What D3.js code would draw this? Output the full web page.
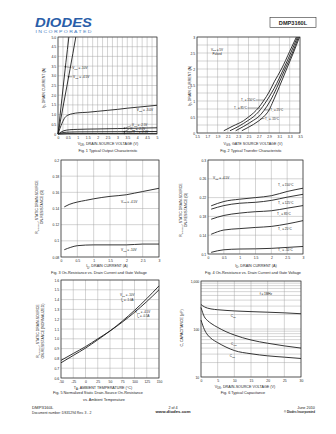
<!DOCTYPE html>
<html><head><meta charset="utf-8">
<script src="https://cdn.jsdelivr.net/npm/d3@7"></script>
<style>html,body{margin:0;padding:0;background:#fff;}svg{display:block;font-family:"Liberation Sans",Arial,sans-serif;}</style>
</head><body><svg id="c" width="336" height="434"></svg>
<script>
// ---------- DATA ----------
// Fig 1: Typical Output Characteristic  [VDS, ID]
const f1Vgs10 = [[0,0],[0.2,1.85],[0.4,3.7],[0.55,5]];
const f1Vgs45 = [[0,0],[0.3,1.65],[0.6,3.3],[0.9,5]];
const f1Vgs30 = [[0,0],[0.2,0.55],[0.35,0.85],[0.5,0.97],[0.75,1.05],[1,1.09],[1.5,1.12],[2,1.17],[2.5,1.22],[3,1.27],[3.5,1.33],[4,1.38],[4.5,1.43],[5,1.48]];
const f1Vgs25 = [[0,0],[0.3,0.17],[0.6,0.22],[1,0.24],[2,0.26],[3,0.28],[4,0.3],[5,0.32]];
const f1Vgs22 = [[0,0],[0.3,0.08],[0.6,0.1],[1,0.11],[3,0.12],[5,0.13]];
const f1Vgs20 = [[0,0],[0.5,0.02],[2,0.025],[5,0.03]];
const f1Ticks = [0,0.5,1,1.5,2,2.5,3,3.5,4,4.5,5];
const f1XLabels = ["0","0.5","1","1.5","2","2.5","3","3.5","4","4.5","5"];
const f1YLabels = ["0","0.5","1.0","1.5","2.0","2.5","3.0","3.5","4.0","4.5","5.0"];

// Fig 2: Typical Transfer Characteristic [VGS, ID]
const f2T150 = [[2.02,0.07],[2.2,0.22],[2.4,0.38],[2.5,0.5],[2.6,0.63],[2.7,0.8],[2.79,1.0],[2.9,1.28],[3.0,1.6],[3.14,2.0],[3.3,2.55],[3.43,3.0]];
const f2T85  = [[2.14,0.07],[2.3,0.2],[2.5,0.4],[2.59,0.5],[2.7,0.67],[2.85,1.0],[3.0,1.4],[3.18,2.0],[3.32,2.5],[3.45,3.0]];
const f2T25  = [[2.25,0.07],[2.4,0.2],[2.6,0.4],[2.69,0.5],[2.8,0.7],[2.92,1.0],[3.05,1.42],[3.21,2.0],[3.35,2.5],[3.47,3.0]];
const f2Tm55 = [[2.37,0.07],[2.5,0.18],[2.7,0.38],[2.79,0.5],[2.9,0.72],[2.98,1.0],[3.1,1.45],[3.24,2.0],[3.37,2.5],[3.49,3.0]];
const f2XTicks = [1.5,1.7,1.9,2.1,2.3,2.5,2.7,2.9,3.1,3.3,3.5];
const f2XLabels = ["1.5","1.7","1.9","2.1","2.3","2.5","2.7","2.9","3.1","3.3","3.5"];
const f2YTicks = [0,0.5,1,1.5,2,2.5,3];
const f2YLabels = ["0","0.5","1","1.5","2","2.5","3"];

// Fig 3: On-Resistance vs Drain Current and Gate Voltage [ID, RDS]
const f3Vgs45 = [[0.1,0.142],[0.25,0.145],[0.5,0.148],[0.75,0.150],[1,0.152],[1.5,0.155],[2,0.157],[2.25,0.159],[2.5,0.161],[3,0.165]];
const f3Vgs10 = [[0.1,0.089],[0.3,0.092],[0.5,0.094],[1,0.095],[1.5,0.095],[2,0.095],[2.5,0.096],[3,0.096]];
const f3XTicks = [0,0.5,1,1.5,2,2.5,3];
const f3XLabels = ["0","0.5","1","1.5","2","2.5","3"];
const f3YTicks = [0.08,0.1,0.12,0.14,0.16,0.18,0.2];
const f3YLabels = ["0.08","0.1","0.12","0.14","0.16","0.18","0.2"];

// Fig 4: On-Resistance vs Drain Current and Temperature [ID, RDS]
const f4T150 = [[0.1,0.2025],[0.5,0.2117],[1,0.2166],[1.5,0.22],[2,0.224],[2.5,0.233],[3,0.24]];
const f4T125 = [[0.1,0.1954],[0.5,0.203],[1,0.208],[1.5,0.21],[2,0.214],[2.5,0.221],[3,0.227]];
const f4T85  = [[0.1,0.174],[0.5,0.182],[1,0.187],[1.5,0.19],[2,0.192],[2.5,0.1975],[3,0.203]];
const f4T25  = [[0.1,0.142],[0.5,0.151],[1,0.154],[1.5,0.1565],[2,0.1587],[2.5,0.164],[3,0.171]];
const f4Tm55 = [[0.1,0.1035],[0.5,0.109],[1,0.1106],[1.5,0.111],[2,0.112],[2.5,0.114],[3,0.116]];
const f4YTicks = [0.1,0.14,0.18,0.22,0.26,0.3];
const f4YLabels = ["0.1","0.14","0.18","0.22","0.26","0.3"];

// Fig 5: Normalized RDS(on) vs Ambient Temperature [TA, norm]
const f5Vgs10 = [[-50,0.755],[-25,0.83],[0,0.905],[25,0.99],[50,1.08],[75,1.18],[100,1.29],[125,1.41],[150,1.54]];
const f5Vgs45 = [[-50,0.78],[-25,0.85],[0,0.92],[25,1.0],[50,1.08],[75,1.17],[100,1.27],[125,1.38],[150,1.5]];
const f5XTicks = [-50,-25,0,25,50,75,100,125,150];
const f5XLabels = ["-50","-25","0","25","50","75","100","125","150"];
const f5YTicks = [0.6,0.7,0.8,0.9,1.0,1.1,1.2,1.3,1.4,1.5,1.6];
const f5YLabels = ["0.6","0.7","0.8","0.9","1.0","1.1","1.2","1.3","1.4","1.5","1.6"];

// Fig 6: Typical Capacitance [VDS, pF]
const f6Ciss = [[0,324],[1,290],[2,272],[3,262],[5,252],[7.5,244],[10,238],[15,230],[20,224],[25,217],[30,208]];
const f6Coss = [[0,281],[1,180],[2,149],[3,131],[5,108],[7.5,88],[10,75],[15,59],[20,50.5],[25,44.5],[30,40]];
const f6Crss = [[0,153],[1,98],[2,75],[3,64],[5,52],[7.5,42],[10,35.6],[15,30.5],[20,27.6],[25,25.9],[30,24.3]];
const f6XTicks = [0,5,10,15,20,25,30];
const f6XLabels = ["0","5","10","15","20","25","30"];
const f6YTicks = [10,100,1000];
const f6YLabels = ["10","100","1,000"];
const f6YMinor = [20,30,40,50,60,70,80,90,200,300,400,500,600,700,800,900];

// ---------- DRAWING ----------
const svg = d3.select("#c");
svg.append("rect").attr("width",336).attr("height",434).attr("fill","#fff");
const INK = "#1e1e1e";

function rich(t, str, fs){
  const parts = str.split(/(_\{[^}]*\})/);
  let sub = false;
  parts.forEach(p=>{
    if(!p) return;
    if(p.startsWith("_{")){
      t.append("tspan").attr("font-size", fs*0.72).attr("dy", fs*0.3).text(p.slice(2,-1));
      sub = true;
    } else {
      const s = t.append("tspan").text(p);
      if(sub){ s.attr("dy", -fs*0.3); sub = false; }
    }
  });
  return t;
}
function txt(x,y,str,fs,anchor,opts){
  opts = opts||{};
  const t = svg.append("text").attr("x",x).attr("y",y).attr("font-size",fs)
    .attr("text-anchor",anchor||"start").attr("fill",opts.fill||INK);
  if(opts.weight) t.attr("font-weight",opts.weight);
  if(opts.style) t.attr("font-style",opts.style);
  if(opts.len) t.attr("textLength",opts.len).attr("lengthAdjust","spacingAndGlyphs");
  return rich(t,str,fs);
}
function vtxt(x,y,str,fs){
  const t = svg.append("text").attr("transform",`translate(${x},${y}) rotate(-90)`)
    .attr("font-size",fs).attr("text-anchor","middle").attr("fill",INK);
  return rich(t,str,fs);
}

function panel(c){
  const g = svg.append("g");
  const x = d3.scaleLinear().domain(c.xDom).range([c.x0,c.x1]);
  const y = (c.yLog?d3.scaleLog():d3.scaleLinear()).domain(c.yDom).range([c.y1,c.y0]);
  g.selectAll("line.gx").data(c.xGrid).join("line").attr("class","gx")
    .attr("x1",d=>x(d)).attr("x2",d=>x(d)).attr("y1",c.y0).attr("y2",c.y1)
    .attr("stroke","#a0a0a0").attr("stroke-width",0.45);
  g.selectAll("line.gy").data(c.yGrid).join("line").attr("class","gy")
    .attr("y1",d=>y(d)).attr("y2",d=>y(d)).attr("x1",c.x0).attr("x2",c.x1)
    .attr("stroke","#a0a0a0").attr("stroke-width",0.45);
  g.append("rect").attr("x",c.x0).attr("y",c.y0).attr("width",c.x1-c.x0).attr("height",c.y1-c.y0)
    .attr("fill","none").attr("stroke","#333").attr("stroke-width",0.7);
  const fs = 3.4;
  const ax = g.append("g").attr("transform",`translate(0,${c.y1})`)
    .call(d3.axisBottom(x).tickValues(c.xTicks).tickFormat((d,i)=>c.xLabels[i]).tickSize(0).tickPadding(2.4));
  const ay = g.append("g").attr("transform",`translate(${c.x0},0)`)
    .call(d3.axisLeft(y).tickValues(c.yTicks).tickFormat((d,i)=>c.yLabels[i]).tickSize(0).tickPadding(1.8));
  [ax,ay].forEach(a=>{
    a.select(".domain").remove();
    a.attr("font-size",fs).attr("font-family",null);
    a.selectAll("text").attr("fill",INK);
  });
  const line = d3.line().x(d=>x(d[0])).y(d=>y(d[1])).curve(d3.curveMonotoneX);
  g.selectAll("path.s").data(c.series).join("path").attr("class","s")
    .attr("d",d=>line(d)).attr("fill","none").attr("stroke",INK).attr("stroke-width",c.sw||0.9);
  (c.leaders||[]).forEach(l=>{
    g.append("line").attr("x1",x(l[0])).attr("y1",y(l[1])).attr("x2",x(l[2])).attr("y2",y(l[3]))
      .attr("stroke",INK).attr("stroke-width",0.4);
    if(l[4]) g.append("circle").attr("cx",x(l[0])).attr("cy",y(l[1])).attr("r",0.8).attr("fill",INK);
  });
  (c.notes||[]).forEach(n=>{
    txt(x(n[0]),y(n[1])+1.1,n[2],n[3]||3.1,n[4]||"start");
  });
  return {x,y};
}

const range = (a,b,s)=>d3.range(a,b+s/2,s);

// Fig 1
panel({x0:58,x1:157,y0:37,y1:134,xDom:[0,5],yDom:[0,5],
  xGrid:range(0,5,0.25),yGrid:range(0,5,0.5),
  xTicks:f1Ticks,xLabels:f1XLabels,yTicks:f1Ticks,yLabels:f1YLabels,
  series:[f1Vgs10,f1Vgs45,f1Vgs30,f1Vgs25,f1Vgs22,f1Vgs20],
  leaders:[[0.37,3.47,0.68,3.42,true],[0.53,2.95,0.72,2.95,true],[3.35,0.29,3.7,0.43,true],[3.35,0.12,3.6,0.26,true],[3.35,0.03,3.75,0.1,true]],
  notes:[[0.72,3.42,"V_{GS} = -10V"],[0.76,2.95,"V_{GS} = -4.5V"],[4.8,1.22,"V_{GS} = -3.0V",3.1,"end"],
         [3.74,0.45,"V_{GS} = -2.5V",2.9],[3.64,0.27,"V_{GS} = -2.2V",2.9],[3.79,0.09,"V_{GS} = -2.0V",2.9]]
});
txt(108,144.7,"V_{DS}, DRAIN-SOURCE VOLTAGE (V)",3.7,"middle");
txt(108,151.5,"Fig. 1  Typical Output Characteristic",3.8,"middle");
vtxt(45,88,"I_{D}, DRAIN CURRENT (A)",3.6);

// Fig 2
panel({x0:197,x1:300,y0:37,y1:133,xDom:[1.5,3.5],yDom:[0,3],
  xGrid:range(1.5,3.5,0.2),yGrid:range(0,3,0.25),
  xTicks:f2XTicks,xLabels:f2XLabels,yTicks:f2YTicks,yLabels:f2YLabels,
  series:[f2T150,f2T85,f2T25,f2Tm55],
  leaders:[[2.64,1.03,2.8,1.03],[2.48,0.78,2.73,0.78],[2.81,0.72,2.91,0.72],[2.73,0.45,2.81,0.45]],
  notes:[[1.888,2.61,"V_{DS} = 5V",3.0,"middle"],[1.888,2.48,"Pulsed",3.0,"middle"],
         [2.635,1.03,"T_{A} = 150°C",2.9,"end"],[2.47,0.77,"T_{A} = 85°C",2.9,"end"],
         [2.92,0.72,"T_{A} = 25°C",2.9],[2.82,0.43,"T_{A} = -55°C",2.9]]
});
txt(253,144.5,"V_{GS}, GATE SOURCE VOLTAGE (V)",3.7,"middle");
txt(251,151.5,"Fig. 2  Typical Transfer Characteristic",3.8,"middle");
vtxt(190.5,86,"I_{D}, DRAIN CURRENT (A)",3.6);

// Fig 3
panel({x0:61,x1:159,y0:160,y1:257,xDom:[0,3],yDom:[0.08,0.2],
  xGrid:range(0,3,0.5),yGrid:range(0.08,0.2,0.02),
  xTicks:f3XTicks,xLabels:f3XLabels,yTicks:f3YTicks,yLabels:f3YLabels,
  series:[f3Vgs45,f3Vgs10],
  notes:[[1.84,0.1487,"V_{GS} = -4.5V"],[1.84,0.0887,"V_{GS} = -10V"]]
});
txt(107,267.4,"I_{D}, DRAIN CURRENT (A)",3.7,"middle");
txt(99,273.5,"Fig. 3  On-Resistance vs. Drain Current and Gate Voltage",3.8,"middle");
vtxt(37.5,207,"R_{DS(ON)}, STATIC DRAIN-SOURCE",3.5);
vtxt(42.5,207,"ON-RESISTANCE (Ω)",3.5);

// Fig 4
panel({x0:208,x1:303,y0:160,y1:254,xDom:[0,3],yDom:[0.1,0.3],
  xGrid:range(0,3,0.5),yGrid:range(0.1,0.3,0.04),
  xTicks:f3XTicks,xLabels:f3XLabels,yTicks:f4YTicks,yLabels:f4YLabels,
  series:[f4T150,f4T125,f4T85,f4T25,f4Tm55],
  notes:[[0.16,0.2623,"V_{GS} = -4.5V"],[2.21,0.2468,"T_{A} = 150°C"],[2.21,0.209,"T_{A} = 125°C"],
         [2.18,0.186,"T_{A} = 85°C"],[2.21,0.153,"T_{A} = 25°C"],[2.21,0.1085,"T_{A} = -55°C"]]
});
txt(256,266.5,"I_{D}, DRAIN CURRENT (A)",3.7,"middle");
txt(253,273.5,"Fig. 4  On-Resistance vs. Drain Current and Gate Voltage",3.8,"middle");
vtxt(181.5,210,"R_{DS(ON)}, STATIC DRAIN-SOURCE",3.5);
vtxt(186.5,210,"ON-RESISTANCE (Ω)",3.5);

// Fig 5
panel({x0:61,x1:159,y0:280,y1:378,xDom:[-50,150],yDom:[0.6,1.6],
  xGrid:range(-50,150,25),yGrid:range(0.6,1.6,0.1),
  xTicks:f5XTicks,xLabels:f5XLabels,yTicks:f5YTicks,yLabels:f5YLabels,
  series:[f5Vgs10,f5Vgs45],
  notes:[[70.4,1.446,"V_{GS} = -10V",2.9],[72.4,1.398,"I_{D} = -1.0A",2.9],
         [101,1.277,"V_{GS} = -4.5V",2.9],[105,1.233,"I_{D} = -0.5A",2.9]]
});
txt(103,388.8,"T_{A}, AMBIENT TEMPERATURE (°C)",3.7,"middle");
txt(98,394.2,"Fig. 5  Normalized Static Drain-Source On-Resistance",3.8,"middle");
txt(104,400.5,"vs. Ambient Temperature",3.8,"middle");
vtxt(38.5,331,"R_{DS(ON)}, STATIC DRAIN-SOURCE",3.5);
vtxt(43.5,331,"ON-RESISTANCE (NORMALIZED)",3.5);

// Fig 6
panel({x0:201,x1:301,y0:281,y1:377,xDom:[0,30],yDom:[10,1000],yLog:true,
  xGrid:range(0,30,5),yGrid:f6YTicks.concat(f6YMinor),
  xTicks:f6XTicks,xLabels:f6XLabels,yTicks:f6YTicks,yLabels:f6YLabels,
  series:[f6Ciss,f6Coss,f6Crss],
  notes:[[8.9,189,"C_{iss}"],[9.0,48.7,"C_{oss}"],[8.6,27.8,"C_{rss}"],[17.6,536,"f = 1MHz"]]
});
txt(245,388.2,"V_{DS}, DRAIN-SOURCE VOLTAGE (V)",3.7,"middle");
txt(243,393.6,"Fig. 6  Typical Capacitance",3.8,"middle");
vtxt(182.5,328,"C, CAPACITANCE (pF)",3.6);

// Header
txt(35,27.3,"DIODES",12,"start",{fill:"#2a5ea9",weight:"bold",style:"italic",len:57});
txt(35.5,32.6,"I N C O R P O R A T E D",2.6,"start",{fill:"#4a7cc0",len:56});
svg.append("rect").attr("x",270).attr("y",17.5).attr("width",46).attr("height",10)
  .attr("fill","none").attr("stroke","#333").attr("stroke-width",0.6);
txt(293,24.6,"DMP3160L",5.6,"middle",{weight:"bold"});

// Footer
txt(32,409.3,"DMP3160L",4.3,"start");
txt(32,413.6,"Document number: DS31294 Rev. 3 - 2",3.4,"start");
txt(173,408.9,"2 of 4",3.7,"middle");
txt(173,413.2,"www.diodes.com",4.3,"middle",{weight:"bold"});
txt(315,408.9,"June 2010",3.8,"end");
txt(315,413.2,"© Diodes Incorporated",2.9,"end",{weight:"bold"});
</script></body></html>
